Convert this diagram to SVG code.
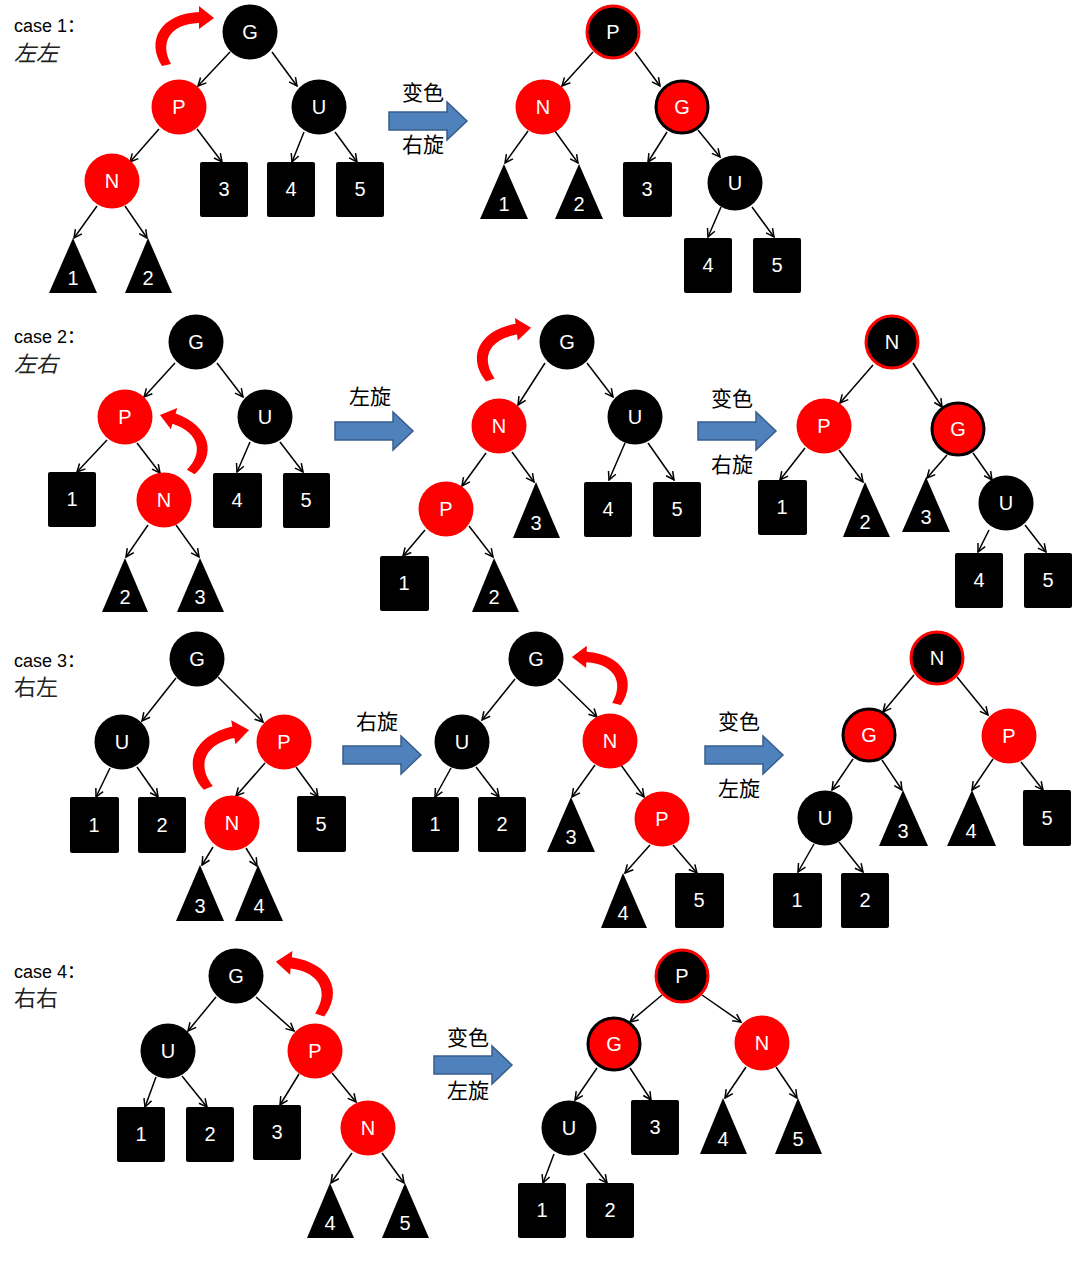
<svg xmlns="http://www.w3.org/2000/svg" width="1080" height="1276" viewBox="0 0 1080 1276">
<defs>
<marker id="ah" viewBox="0 0 10 10" refX="9" refY="5" markerWidth="10" markerHeight="10" markerUnits="userSpaceOnUse" orient="auto">
<path d="M1,1 L9,5 L1,9" fill="none" stroke="#000" stroke-width="1.5"/>
</marker>
<path id="rot" d="M-4,0 C-20,-25 -6,-52 33,-54 L33,-60 L48,-48 L33,-37 L33,-43 C2,-42 -6,-22 5,-2 Z" fill="#FF0000"/>
<path id="blk" d="M0,10 H58 V0 L78,19 L58,38 V28 H0 Z" fill="#4F81BD" stroke="#385D8A" stroke-width="1.5"/>
</defs>
<style>
.b{fill:#000}
.r{fill:#FF0000}
.br{fill:#000;stroke:#FF0000;stroke-width:3}
.rb{fill:#FF0000;stroke:#000;stroke-width:3}
.sq{fill:#000}
.t{fill:#fff;font-family:"Liberation Sans",Arial,sans-serif;font-size:20px;text-anchor:middle}
.conn line{stroke:#000;stroke-width:1.5;marker-end:url(#ah)}
.cn{font-family:"Noto Sans CJK SC",sans-serif;font-size:21px;text-anchor:middle;fill:#000}
.case{font-family:"Liberation Sans","Noto Sans CJK SC",sans-serif;font-size:18px;fill:#000}
.cl{font-family:"Noto Sans CJK SC",sans-serif;font-size:22px;fill:#222}
</style>
<rect width="1080" height="1276" fill="#fff"/>

<g id="labels">
<text class="case" x="14" y="32">case 1：</text>
<text class="cl" x="14" y="61" font-style="italic">左左</text>
<text class="case" x="14" y="343">case 2：</text>
<text class="cl" x="14" y="372" font-style="italic">左右</text>
<text class="case" x="14" y="667">case 3：</text>
<text class="cl" x="14" y="695">右左</text>
<text class="case" x="14" y="978">case 4：</text>
<text class="cl" x="14" y="1006">右右</text>
</g>

<g id="steps">
<use href="#blk" x="389" y="102"/>
<text class="cn" x="423" y="100">变色</text>
<text class="cn" x="423" y="152">右旋</text>
<use href="#blk" x="335" y="412"/>
<text class="cn" x="370" y="404">左旋</text>
<use href="#blk" x="698" y="412"/>
<text class="cn" x="732" y="406">变色</text>
<text class="cn" x="732" y="472">右旋</text>
<use href="#blk" x="343" y="736"/>
<text class="cn" x="377" y="729">右旋</text>
<use href="#blk" x="705" y="736"/>
<text class="cn" x="739" y="729">变色</text>
<text class="cn" x="739" y="796">左旋</text>
<use href="#blk" x="434" y="1046"/>
<text class="cn" x="468" y="1045">变色</text>
<text class="cn" x="468" y="1098">左旋</text>
</g>

<g id="rotations">
<use href="#rot" transform="translate(166,66)"/>
<use href="#rot" transform="translate(191,473) rotate(16.9) scale(0.97) scale(-1,1)"/>
<use href="#rot" transform="translate(490,381) rotate(-7.3) scale(0.99)"/>
<use href="#rot" transform="translate(208,789) rotate(-10.2) scale(1.06)"/>
<use href="#rot" transform="translate(617,705) rotate(1.8) scale(0.97) scale(-1,1)"/>
<use href="#rot" transform="translate(320,1016) rotate(5.8) scale(1.03) scale(-1,1)"/>
</g>

<g class="conn" id="connectors">
<line x1="230" y1="52" x2="198" y2="86"/>
<line x1="272" y1="52" x2="297" y2="86"/>
<line x1="159" y1="129" x2="130" y2="162"/>
<line x1="197" y1="129" x2="222" y2="162"/>
<line x1="304" y1="132" x2="292" y2="162"/>
<line x1="335" y1="132" x2="357" y2="162"/>
<line x1="97" y1="206" x2="74" y2="238"/>
<line x1="125" y1="206" x2="147" y2="238"/>
<line x1="593" y1="52" x2="562" y2="86"/>
<line x1="635" y1="52" x2="660" y2="86"/>
<line x1="528" y1="131" x2="505" y2="163"/>
<line x1="555" y1="131" x2="578" y2="163"/>
<line x1="667" y1="132" x2="648" y2="162"/>
<line x1="698" y1="130" x2="720" y2="157"/>
<line x1="721" y1="207" x2="708" y2="237"/>
<line x1="752" y1="207" x2="774" y2="237"/>
<line x1="175" y1="363" x2="144" y2="397"/>
<line x1="217" y1="363" x2="243" y2="397"/>
<line x1="107" y1="440" x2="77" y2="472"/>
<line x1="137" y1="443" x2="160" y2="473"/>
<line x1="250" y1="442" x2="237" y2="472"/>
<line x1="280" y1="442" x2="303" y2="472"/>
<line x1="148" y1="525" x2="126" y2="557"/>
<line x1="176" y1="525" x2="199" y2="557"/>
<line x1="545" y1="363" x2="518" y2="405"/>
<line x1="587" y1="363" x2="613" y2="397"/>
<line x1="486" y1="453" x2="462" y2="486"/>
<line x1="512" y1="452" x2="534" y2="482"/>
<line x1="625" y1="443" x2="609" y2="480"/>
<line x1="648" y1="443" x2="674" y2="480"/>
<line x1="425" y1="530" x2="403" y2="556"/>
<line x1="469" y1="526" x2="493" y2="557"/>
<line x1="873" y1="365" x2="840" y2="403"/>
<line x1="913" y1="363" x2="942" y2="407"/>
<line x1="805" y1="448" x2="780" y2="480"/>
<line x1="839" y1="450" x2="863" y2="482"/>
<line x1="947" y1="455" x2="927" y2="478"/>
<line x1="973" y1="453" x2="992" y2="480"/>
<line x1="989" y1="530" x2="978" y2="552"/>
<line x1="1025" y1="525" x2="1046" y2="552"/>
<line x1="176" y1="678" x2="142" y2="721"/>
<line x1="218" y1="677" x2="263" y2="722"/>
<line x1="110" y1="768" x2="96" y2="797"/>
<line x1="137" y1="767" x2="158" y2="797"/>
<line x1="265" y1="763" x2="236" y2="796"/>
<line x1="296" y1="767" x2="318" y2="797"/>
<line x1="213" y1="847" x2="202" y2="865"/>
<line x1="246" y1="848" x2="257" y2="866"/>
<line x1="515" y1="679" x2="482" y2="720"/>
<line x1="558" y1="679" x2="597" y2="717"/>
<line x1="451" y1="768" x2="435" y2="797"/>
<line x1="476" y1="767" x2="499" y2="797"/>
<line x1="595" y1="765" x2="572" y2="797"/>
<line x1="621" y1="765" x2="644" y2="797"/>
<line x1="650" y1="845" x2="625" y2="873"/>
<line x1="673" y1="845" x2="697" y2="873"/>
<line x1="914" y1="675" x2="883" y2="712"/>
<line x1="957" y1="677" x2="988" y2="715"/>
<line x1="853" y1="759" x2="832" y2="790"/>
<line x1="882" y1="760" x2="902" y2="790"/>
<line x1="993" y1="759" x2="972" y2="790"/>
<line x1="1021" y1="762" x2="1043" y2="790"/>
<line x1="814" y1="844" x2="798" y2="872"/>
<line x1="839" y1="842" x2="863" y2="872"/>
<line x1="216" y1="997" x2="188" y2="1031"/>
<line x1="256" y1="997" x2="294" y2="1031"/>
<line x1="156" y1="1077" x2="145" y2="1107"/>
<line x1="182" y1="1076" x2="207" y2="1107"/>
<line x1="299" y1="1074" x2="280" y2="1105"/>
<line x1="332" y1="1073" x2="356" y2="1102"/>
<line x1="352" y1="1153" x2="331" y2="1183"/>
<line x1="382" y1="1153" x2="404" y2="1183"/>
<line x1="662" y1="995" x2="630" y2="1022"/>
<line x1="702" y1="995" x2="741" y2="1022"/>
<line x1="597" y1="1068" x2="575" y2="1100"/>
<line x1="630" y1="1068" x2="651" y2="1100"/>
<line x1="746" y1="1067" x2="725" y2="1098"/>
<line x1="776" y1="1067" x2="797" y2="1098"/>
<line x1="554" y1="1154" x2="543" y2="1183"/>
<line x1="584" y1="1153" x2="607" y2="1183"/>
</g>

<g id="c1a-G"><circle class="b" cx="250" cy="32" r="27.5"/><text class="t" x="250" y="39">G</text></g>
<g id="c1a-P"><circle class="r" cx="179" cy="107" r="27.5"/><text class="t" x="179" y="114">P</text></g>
<g id="c1a-U"><circle class="b" cx="319" cy="107" r="27.5"/><text class="t" x="319" y="114">U</text></g>
<g id="c1a-N"><circle class="r" cx="112" cy="181" r="27.5"/><text class="t" x="112" y="188">N</text></g>
<g id="c1a-3"><rect class="sq" x="200" y="162" width="48" height="55" rx="2"/><text class="t" x="224" y="196">3</text></g>
<g id="c1a-4"><rect class="sq" x="267" y="162" width="48" height="55" rx="2"/><text class="t" x="291" y="196">4</text></g>
<g id="c1a-5"><rect class="sq" x="336" y="162" width="48" height="55" rx="2"/><text class="t" x="360" y="196">5</text></g>
<g id="c1a-1"><polygon class="b" points="73,238 49,293 97,293"/><text class="t" x="73" y="285">1</text></g>
<g id="c1a-2"><polygon class="b" points="148,238 125,293 172,293"/><text class="t" x="148" y="285">2</text></g>

<g id="c1b-P"><circle class="br" cx="613" cy="32" r="26"/><text class="t" x="613" y="39">P</text></g>
<g id="c1b-N"><circle class="r" cx="543" cy="107" r="27.5"/><text class="t" x="543" y="114">N</text></g>
<g id="c1b-G"><circle class="rb" cx="682" cy="107" r="26"/><text class="t" x="682" y="114">G</text></g>
<g id="c1b-U"><circle class="b" cx="735" cy="183" r="27.5"/><text class="t" x="735" y="190">U</text></g>
<g id="c1b-1"><polygon class="b" points="504,164 480,219 528,219"/><text class="t" x="504" y="211">1</text></g>
<g id="c1b-2"><polygon class="b" points="579,164 555,219 603,219"/><text class="t" x="579" y="211">2</text></g>
<g id="c1b-3"><rect class="sq" x="623" y="162" width="49" height="55" rx="2"/><text class="t" x="647" y="196">3</text></g>
<g id="c1b-4"><rect class="sq" x="684" y="238" width="48" height="55" rx="2"/><text class="t" x="708" y="272">4</text></g>
<g id="c1b-5"><rect class="sq" x="753" y="238" width="48" height="55" rx="2"/><text class="t" x="777" y="272">5</text></g>

<g id="c2a-G"><circle class="b" cx="196" cy="342" r="27.5"/><text class="t" x="196" y="349">G</text></g>
<g id="c2a-P"><circle class="r" cx="125" cy="417" r="27.5"/><text class="t" x="125" y="424">P</text></g>
<g id="c2a-U"><circle class="b" cx="265" cy="417" r="27.5"/><text class="t" x="265" y="424">U</text></g>
<g id="c2a-N"><circle class="r" cx="164" cy="500" r="27.5"/><text class="t" x="164" y="507">N</text></g>
<g id="c2a-1"><rect class="sq" x="48" y="472" width="48" height="55" rx="2"/><text class="t" x="72" y="506">1</text></g>
<g id="c2a-4"><rect class="sq" x="213" y="473" width="49" height="55" rx="2"/><text class="t" x="237" y="507">4</text></g>
<g id="c2a-5"><rect class="sq" x="283" y="473" width="47" height="55" rx="2"/><text class="t" x="306" y="507">5</text></g>
<g id="c2a-2"><polygon class="b" points="125,558 102,612 148,612"/><text class="t" x="125" y="604">2</text></g>
<g id="c2a-3"><polygon class="b" points="200,558 177,612 224,612"/><text class="t" x="200" y="604">3</text></g>

<g id="c2b-G"><circle class="b" cx="567" cy="342" r="27.5"/><text class="t" x="567" y="349">G</text></g>
<g id="c2b-N"><circle class="r" cx="499" cy="426" r="27.5"/><text class="t" x="499" y="433">N</text></g>
<g id="c2b-U"><circle class="b" cx="635" cy="417" r="27.5"/><text class="t" x="635" y="424">U</text></g>
<g id="c2b-P"><circle class="r" cx="446" cy="509" r="27.5"/><text class="t" x="446" y="516">P</text></g>
<g id="c2b-3"><polygon class="b" points="536,482 513,538 560,538"/><text class="t" x="536" y="530">3</text></g>
<g id="c2b-4"><rect class="sq" x="584" y="482" width="48" height="55" rx="2"/><text class="t" x="608" y="516">4</text></g>
<g id="c2b-5"><rect class="sq" x="653" y="482" width="48" height="55" rx="2"/><text class="t" x="677" y="516">5</text></g>
<g id="c2b-1"><rect class="sq" x="380" y="556" width="49" height="55" rx="2"/><text class="t" x="404" y="590">1</text></g>
<g id="c2b-2"><polygon class="b" points="494,558 472,612 519,612"/><text class="t" x="494" y="604">2</text></g>

<g id="c2c-N"><circle class="br" cx="892" cy="342" r="26"/><text class="t" x="892" y="349">N</text></g>
<g id="c2c-P"><circle class="r" cx="824" cy="426" r="27.5"/><text class="t" x="824" y="433">P</text></g>
<g id="c2c-G"><circle class="rb" cx="958" cy="429" r="26"/><text class="t" x="958" y="436">G</text></g>
<g id="c2c-U"><circle class="b" cx="1006" cy="503" r="27.5"/><text class="t" x="1006" y="510">U</text></g>
<g id="c2c-1"><rect class="sq" x="758" y="480" width="49" height="55" rx="2"/><text class="t" x="782" y="514">1</text></g>
<g id="c2c-2"><polygon class="b" points="865,482 843,537 890,537"/><text class="t" x="865" y="529">2</text></g>
<g id="c2c-3"><polygon class="b" points="926,477 902,532 950,532"/><text class="t" x="926" y="524">3</text></g>
<g id="c2c-4"><rect class="sq" x="955" y="553" width="48" height="55" rx="2"/><text class="t" x="979" y="587">4</text></g>
<g id="c2c-5"><rect class="sq" x="1024" y="553" width="48" height="55" rx="2"/><text class="t" x="1048" y="587">5</text></g>

<g id="c3a-G"><circle class="b" cx="197" cy="659" r="27.5"/><text class="t" x="197" y="666">G</text></g>
<g id="c3a-U"><circle class="b" cx="122" cy="742" r="27.5"/><text class="t" x="122" y="749">U</text></g>
<g id="c3a-P"><circle class="r" cx="284" cy="742" r="27.5"/><text class="t" x="284" y="749">P</text></g>
<g id="c3a-N"><circle class="r" cx="232" cy="823" r="27.5"/><text class="t" x="232" y="830">N</text></g>
<g id="c3a-1"><rect class="sq" x="70" y="797" width="49" height="56" rx="2"/><text class="t" x="94" y="832">1</text></g>
<g id="c3a-2"><rect class="sq" x="138" y="797" width="48" height="56" rx="2"/><text class="t" x="162" y="832">2</text></g>
<g id="c3a-5"><rect class="sq" x="297" y="796" width="49" height="56" rx="2"/><text class="t" x="321" y="831">5</text></g>
<g id="c3a-3"><polygon class="b" points="200,865 176,921 224,921"/><text class="t" x="200" y="913">3</text></g>
<g id="c3a-4"><polygon class="b" points="258,865 235,921 283,921"/><text class="t" x="259" y="913">4</text></g>

<g id="c3b-G"><circle class="b" cx="536" cy="659" r="27.5"/><text class="t" x="536" y="666">G</text></g>
<g id="c3b-U"><circle class="b" cx="462" cy="742" r="27.5"/><text class="t" x="462" y="749">U</text></g>
<g id="c3b-N"><circle class="r" cx="610" cy="741" r="27.5"/><text class="t" x="610" y="748">N</text></g>
<g id="c3b-P"><circle class="r" cx="662" cy="819" r="27.5"/><text class="t" x="662" y="826">P</text></g>
<g id="c3b-1"><rect class="sq" x="412" y="797" width="47" height="55" rx="2"/><text class="t" x="435" y="831">1</text></g>
<g id="c3b-2"><rect class="sq" x="478" y="797" width="48" height="55" rx="2"/><text class="t" x="502" y="831">2</text></g>
<g id="c3b-3"><polygon class="b" points="571,797 547,852 595,852"/><text class="t" x="571" y="844">3</text></g>
<g id="c3b-4"><polygon class="b" points="623,873 601,928 647,928"/><text class="t" x="623" y="920">4</text></g>
<g id="c3b-5"><rect class="sq" x="675" y="873" width="49" height="55" rx="2"/><text class="t" x="699" y="907">5</text></g>

<g id="c3c-N"><circle class="br" cx="937" cy="658" r="26"/><text class="t" x="937" y="665">N</text></g>
<g id="c3c-G"><circle class="rb" cx="869" cy="735" r="26"/><text class="t" x="869" y="742">G</text></g>
<g id="c3c-P"><circle class="r" cx="1009" cy="736" r="27.5"/><text class="t" x="1009" y="743">P</text></g>
<g id="c3c-U"><circle class="b" cx="825" cy="818" r="27.5"/><text class="t" x="825" y="825">U</text></g>
<g id="c3c-3"><polygon class="b" points="903,790 879,846 928,846"/><text class="t" x="903" y="838">3</text></g>
<g id="c3c-4"><polygon class="b" points="972,790 947,846 996,846"/><text class="t" x="971" y="838">4</text></g>
<g id="c3c-5"><rect class="sq" x="1023" y="790" width="48" height="56" rx="2"/><text class="t" x="1047" y="825">5</text></g>
<g id="c3c-1"><rect class="sq" x="773" y="873" width="49" height="55" rx="2"/><text class="t" x="797" y="907">1</text></g>
<g id="c3c-2"><rect class="sq" x="841" y="873" width="48" height="55" rx="2"/><text class="t" x="865" y="907">2</text></g>

<g id="c4a-G"><circle class="b" cx="236" cy="976" r="27.5"/><text class="t" x="236" y="983">G</text></g>
<g id="c4a-U"><circle class="b" cx="168" cy="1051" r="27.5"/><text class="t" x="168" y="1058">U</text></g>
<g id="c4a-P"><circle class="r" cx="315" cy="1051" r="27.5"/><text class="t" x="315" y="1058">P</text></g>
<g id="c4a-N"><circle class="r" cx="368" cy="1128" r="27.5"/><text class="t" x="368" y="1135">N</text></g>
<g id="c4a-1"><rect class="sq" x="117" y="1107" width="48" height="55" rx="2"/><text class="t" x="141" y="1141">1</text></g>
<g id="c4a-2"><rect class="sq" x="186" y="1107" width="48" height="55" rx="2"/><text class="t" x="210" y="1141">2</text></g>
<g id="c4a-3"><rect class="sq" x="253" y="1105" width="48" height="55" rx="2"/><text class="t" x="277" y="1139">3</text></g>
<g id="c4a-4"><polygon class="b" points="330,1183 307,1238 354,1238"/><text class="t" x="330" y="1230">4</text></g>
<g id="c4a-5"><polygon class="b" points="405,1183 382,1238 429,1238"/><text class="t" x="405" y="1230">5</text></g>

<g id="c4b-P"><circle class="br" cx="682" cy="976" r="26"/><text class="t" x="682" y="983">P</text></g>
<g id="c4b-G"><circle class="rb" cx="614" cy="1044" r="26"/><text class="t" x="614" y="1051">G</text></g>
<g id="c4b-N"><circle class="r" cx="762" cy="1043" r="27.5"/><text class="t" x="762" y="1050">N</text></g>
<g id="c4b-U"><circle class="b" cx="569" cy="1128" r="27.5"/><text class="t" x="569" y="1135">U</text></g>
<g id="c4b-3"><rect class="sq" x="631" y="1100" width="48" height="55" rx="2"/><text class="t" x="655" y="1134">3</text></g>
<g id="c4b-4"><polygon class="b" points="723,1098 700,1154 747,1154"/><text class="t" x="723" y="1146">4</text></g>
<g id="c4b-5"><polygon class="b" points="798,1098 775,1154 822,1154"/><text class="t" x="798" y="1146">5</text></g>
<g id="c4b-1"><rect class="sq" x="518" y="1183" width="48" height="55" rx="2"/><text class="t" x="542" y="1217">1</text></g>
<g id="c4b-2"><rect class="sq" x="586" y="1183" width="48" height="55" rx="2"/><text class="t" x="610" y="1217">2</text></g>
</svg>
